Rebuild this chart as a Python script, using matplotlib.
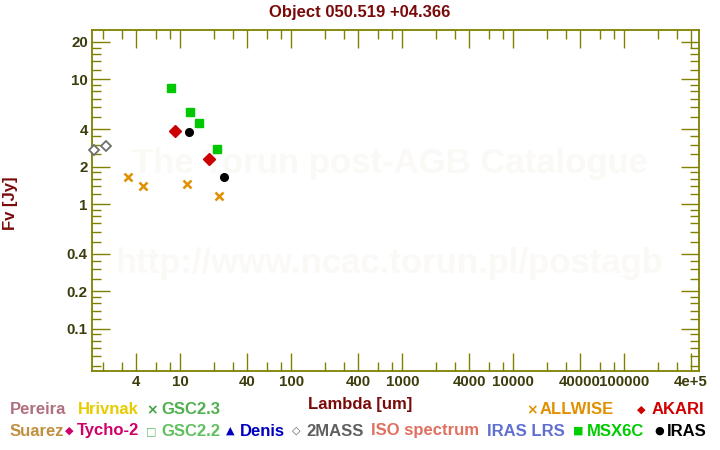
import numpy as np
import matplotlib
matplotlib.use('Agg')
import matplotlib.pyplot as plt
from matplotlib.ticker import FixedLocator, FixedFormatter

# photometry of the object (wavelength in um, flux in Jy)
msx_wl = [8.28, 12.13, 14.65, 21.3]
msx_flux = [8.6, 5.5, 4.5, 2.75]
akari_wl = [9.0, 18.0]
akari_flux = [3.83, 2.28]
iras_wl = [12.0, 25.0]
iras_flux = [3.76, 1.64]
twomass_wl = [1.662, 2.159]
twomass_flux = [2.71, 2.90]
allwise_wl = [3.35, 4.6, 11.6, 22.1]
allwise_flux = [1.64, 1.39, 1.44, 1.15]

x_ticks = [4, 10, 40, 100, 400, 1000, 4000, 10000, 40000, 100000, 400000]
x_labels = ['4', '10', '40', '100', '400', '1000', '4000', '10000', '40000', '100000', '4e+5']
y_ticks = [0.1, 0.2, 0.4, 1, 2, 4, 10, 20]
y_labels = ['0.1', '0.2', '0.4', '1', '2', '4', '10', '20']

axis_col = '#808000'
tick_col = '#3c3c0c'
title_col = '#7a0a0a'

plt.rcParams['font.family'] = ['Liberation Sans', 'DejaVu Sans']
plt.rcParams['font.weight'] = 'bold'

fig = plt.figure(figsize=(7.2, 4.5), dpi=100)
W, H = 720.0, 450.0
ax = fig.add_axes([92 / W, 1 - 371 / H, (699.3 - 92) / W, (371 - 30) / H])

# watermark
ax.text(0.49, 1 - (163 - 30) / 341, 'The Torun post-AGB Catalogue', transform=ax.transAxes,
        ha='center', va='center', fontsize=25, fontweight='bold', color='#fbf9f5', zorder=0)
ax.text(0.49, 1 - (263 - 30) / 341, 'http://www.ncac.torun.pl/postagb', transform=ax.transAxes,
        ha='center', va='center', fontsize=25, fontweight='bold', color='#fbf9f5', zorder=0)

ax.plot(msx_wl, msx_flux, 's', color='#00c800', ms=5.5, ls='none', zorder=3)
ax.plot(akari_wl, akari_flux, 'D', color='#cc0000', ms=5.8, ls='none', zorder=3)
ax.plot(iras_wl, iras_flux, 'o', color='black', ms=5.5, ls='none', zorder=3)
ax.plot(twomass_wl, twomass_flux, 'D', mfc='white', mec='#707070', mew=1.3, ms=5.5, ls='none',
        zorder=3, clip_on=False)
ax.plot(allwise_wl, allwise_flux, 'x', color='#e09000', mew=1.8, ms=5.5, ls='none', zorder=3)

ax.set_xscale('log')
ax.set_yscale('log')
ax.set_xlim(1.601, 4.74e5)
ax.set_ylim(0.0458, 24.9)

x_minor = [d * m for d in [1, 10, 100, 1000, 10000, 100000] for m in [2, 3, 6, 8]]
y_minor = [d * m for d in [0.01, 0.1, 1, 10] for m in [1.2, 1.4, 1.6, 1.8, 2.5, 3, 3.5, 5, 6, 7, 8, 9]]
ax.xaxis.set_major_locator(FixedLocator(x_ticks))
ax.xaxis.set_major_formatter(FixedFormatter(x_labels))
ax.xaxis.set_minor_locator(FixedLocator(x_minor))
ax.xaxis.set_minor_formatter(FixedFormatter([]))
ax.yaxis.set_major_locator(FixedLocator(y_ticks))
ax.yaxis.set_major_formatter(FixedFormatter(y_labels))
ax.yaxis.set_minor_locator(FixedLocator(y_minor))
ax.yaxis.set_minor_formatter(FixedFormatter([]))

for s in ax.spines.values():
    s.set_color(axis_col)
    s.set_linewidth(1.3)
ax.tick_params(which='both', direction='in', top=True, right=True, color=axis_col, width=1.0)
ax.tick_params(which='major', length=13, pad=3, labelsize=10.8, labelcolor=tick_col)
ax.tick_params(which='minor', length=6.5)
for lab in ax.get_xticklabels() + ax.get_yticklabels():
    lab.set_fontweight('bold')

fig.text(360 / W, 1 - 12 / H, 'Object 050.519 +04.366', ha='center', va='center',
         fontsize=12, fontweight='bold', color=title_col)
fig.text(360 / W, 1 - 405 / H, 'Lambda [um]', ha='center', va='center',
         fontsize=12, fontweight='bold', color=title_col)
fig.text(10 / W, 1 - 203 / H, 'Fv [Jy]', ha='center', va='center', rotation=90,
         fontsize=12, fontweight='bold', color=title_col)

# legend rows
row1, row2 = 410, 431
legend_items = [
    ('Pereira', 10, row1, '#b07080', 12),
    ('Hrivnak', 78, row1, '#e6cc00', 12),
    ('\u00d7', 146, row1, '#40a040', 10),
    ('GSC2.3', 161, row1, '#50b050', 12),
    ('\u00d7', 526, row1, '#e09000', 10),
    ('ALLWISE', 540, row1, '#e09000', 12),
    ('\u25c6', 637, row1, '#d00000', 8),
    ('AKARI', 652, row1, '#d00000', 12),
    ('Suarez', 10, row2, '#c09040', 12),
    ('\u25c6', 65, row2, '#d0006a', 8),
    ('Tycho-2', 77, row2, '#d0006a', 12),
    ('\u25a1', 146, row2, '#60c060', 8),
    ('GSC2.2', 161, row2, '#60c060', 12),
    ('\u25b2', 226, row2, '#0000c0', 8),
    ('Denis', 240, row2, '#0000c0', 12),
    ('\u25c7', 292, row2, '#606060', 8),
    ('2MASS', 306, row2, '#606060', 12),
    ('ISO spectrum', 371, row2, '#e07060', 12),
    ('IRAS LRS', 487, row2, '#6070d0', 12),
    ('\u25a0', 573, row2, '#00cc00', 8),
    ('MSX6C', 587, row2, '#00cc00', 12),
    ('\u25cf', 654, row2, 'black', 8),
    ('IRAS', 667, row2, 'black', 12),
]
for txt, x, y, col, fs in legend_items:
    fam = ['DejaVu Sans'] if fs < 12 else ['Liberation Sans', 'DejaVu Sans']
    fig.text(x / W, 1 - y / H, txt, ha='left', va='center', fontsize=fs,
             fontweight='bold', color=col, family=fam)

fig.savefig('out.png', dpi=100)
